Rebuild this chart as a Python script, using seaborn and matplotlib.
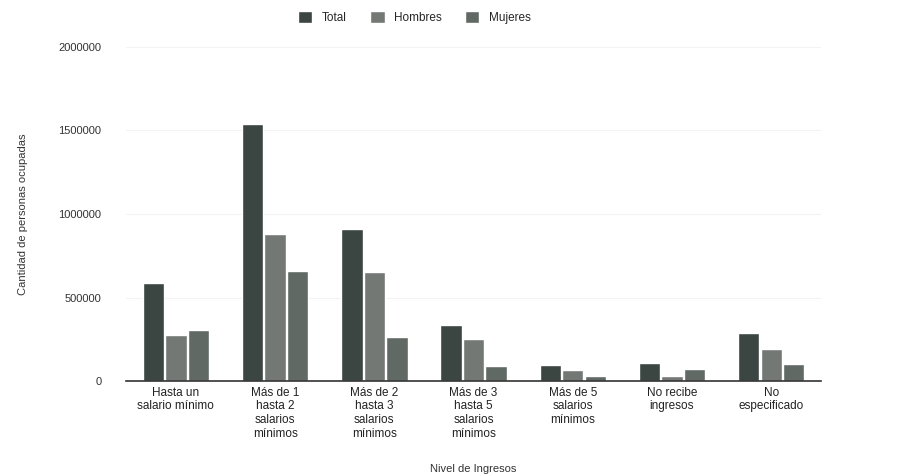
"""
Cantidad de personas ocupadas por nivel de ingresos - bar chart
"""

import numpy as np
import pandas as pd
import matplotlib.pyplot as plt
import seaborn as sns

# Data
categories = ['Hasta un\nsalario mínimo',
              'Más de 1\nhasta 2\nsalarios\nmínimos',
              'Más de 2\nhasta 3\nsalarios\nmínimos',
              'Más de 3\nhasta 5\nsalarios\nmínimos',
              'Más de 5\nsalarios\nmínimos',
              'No recibe\ningresos',
              'No\nespecificado']
total = [587000, 1540000, 910000, 335000, 96000, 108000, 287000]
hombres = [275000, 880000, 653000, 251000, 66000, 30000, 192000]
mujeres = [305000, 659000, 263000, 90000, 30000, 72000, 102000]
series_names = ['Total', 'Hombres', 'Mujeres']
y_ticks = [0, 500000, 1000000, 1500000, 2000000]


def build_frame():
    """Long format frame for seaborn."""
    rows = []
    for name, values in zip(series_names, [total, hombres, mujeres]):
        for cat, v in zip(categories, values):
            rows.append({'Nivel': cat, 'Serie': name, 'Valor': v})
    return pd.DataFrame(rows)


def main():
    sns.set_style('white')
    plt.rcParams['font.family'] = ['Liberation Sans', 'DejaVu Sans']

    df = build_frame()
    palette = {'Total': '#3b4541', 'Hombres': '#737875', 'Mujeres': '#616965'}

    fig = plt.figure(figsize=(9.02, 4.74), dpi=100)
    ax = fig.add_axes([0.14, 0.196, 0.77, 0.705])

    sns.barplot(data=df, x='Nivel', y='Valor', hue='Serie', palette=palette,
                width=0.68, gap=0.05, saturation=1, ax=ax)

    ax.set_ylim(0, 2000000)
    ax.set_yticks(y_ticks)
    ax.set_yticklabels([str(t) for t in y_ticks], fontsize=8, color='#333333')
    ax.tick_params(axis='x', labelsize=8.5, colors='#222222', length=0, pad=4)
    for lbl in ax.get_xticklabels():
        lbl.set_linespacing(1.2)
    ax.tick_params(axis='y', length=0, pad=18)
    ax.grid(axis='y', color='#f3f3f3', linewidth=0.8)
    ax.set_axisbelow(True)

    for side in ['top', 'right', 'left']:
        ax.spines[side].set_visible(False)
    ax.spines['bottom'].set_color('#333333')
    ax.spines['bottom'].set_linewidth(1.2)

    ax.set_ylabel('Cantidad de personas ocupadas', fontsize=8, color='#333333',
                  labelpad=22)
    ax.set_xlabel('Nivel de Ingresos', fontsize=8, color='#333333', labelpad=17)

    handles, labels = ax.get_legend_handles_labels()
    ax.legend(handles, labels, loc='upper center', bbox_to_anchor=(0.415, 1.14),
              ncol=3, frameon=False, fontsize=8.5, handlelength=1.2,
              handleheight=1.2, columnspacing=2.0, handletextpad=0.8)

    fig.savefig('out.png', dpi=100, facecolor='white')


if __name__ == "__main__":
    main()
